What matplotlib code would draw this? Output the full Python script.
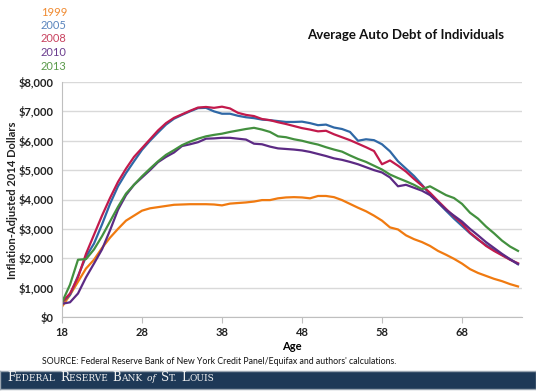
import matplotlib
matplotlib.use("Agg")
import matplotlib.pyplot as plt
import numpy as np

plt.rcParams['font.family'] = ['Lato', 'DejaVu Sans']

ages = list(range(18, 76))

debt_1999 = [0.35, 0.75, 1.2, 1.65, 1.95, 2.35, 2.7, 3.0, 3.28, 3.45, 3.62, 3.7, 3.74, 3.78,
             3.82, 3.83, 3.84, 3.84, 3.84, 3.83, 3.8, 3.86, 3.88, 3.9, 3.93, 3.98, 3.98, 4.04,
             4.07, 4.08, 4.07, 4.04, 4.12, 4.12, 4.08, 3.98, 3.85, 3.72, 3.6, 3.45, 3.28, 3.05,
             2.98, 2.78, 2.65, 2.55, 2.42, 2.25, 2.12, 1.98, 1.82, 1.63, 1.5, 1.4, 1.3, 1.22,
             1.12, 1.04]
debt_2005 = [0.5, 0.75, 1.4, 2.05, 2.5, 3.15, 3.85, 4.45, 4.9, 5.3, 5.69, 6.0, 6.28, 6.55,
             6.75, 6.88, 7.0, 7.11, 7.12, 7.0, 6.92, 6.92, 6.85, 6.8, 6.77, 6.72, 6.7, 6.67,
             6.64, 6.64, 6.65, 6.6, 6.53, 6.55, 6.45, 6.4, 6.3, 6.0, 6.05, 6.02, 5.88, 5.64,
             5.3, 5.05, 4.8, 4.5, 4.17, 3.9, 3.62, 3.35, 3.1, 2.85, 2.63, 2.45, 2.28, 2.12,
             1.96, 1.8]
debt_2008 = [0.5, 0.8, 1.35, 2.15, 2.8, 3.45, 4.05, 4.6, 5.05, 5.45, 5.75, 6.05, 6.35, 6.6,
             6.78, 6.9, 7.02, 7.13, 7.15, 7.12, 7.16, 7.1, 6.95, 6.88, 6.84, 6.74, 6.7, 6.63,
             6.57, 6.5, 6.43, 6.38, 6.32, 6.34, 6.22, 6.12, 6.02, 5.9, 5.78, 5.65, 5.2, 5.33,
             5.15, 4.95, 4.7, 4.47, 4.23, 3.95, 3.68, 3.42, 3.18, 2.87, 2.65, 2.42, 2.25, 2.1,
             1.95, 1.83]
debt_2010 = [0.45, 0.5, 0.8, 1.35, 1.82, 2.3, 2.95, 3.65, 4.15, 4.5, 4.75, 5.0, 5.27, 5.45,
             5.6, 5.82, 5.88, 5.95, 6.07, 6.08, 6.1, 6.1, 6.07, 6.04, 5.9, 5.88, 5.8, 5.74,
             5.72, 5.7, 5.67, 5.62, 5.55, 5.48, 5.4, 5.35, 5.28, 5.2, 5.1, 5.0, 4.92, 4.75,
             4.45, 4.5, 4.4, 4.3, 4.15, 3.9, 3.65, 3.45, 3.25, 3.0, 2.78, 2.55, 2.35, 2.15,
             1.97, 1.8]
debt_2013 = [0.5, 1.1, 1.95, 1.97, 2.3, 2.75, 3.25, 3.75, 4.2, 4.5, 4.79, 5.05, 5.3, 5.52,
             5.68, 5.85, 5.97, 6.07, 6.15, 6.2, 6.24, 6.3, 6.35, 6.4, 6.44, 6.38, 6.3, 6.15,
             6.12, 6.05, 6.0, 5.93, 5.87, 5.78, 5.7, 5.63, 5.5, 5.38, 5.28, 5.15, 5.02, 4.85,
             4.73, 4.62, 4.5, 4.35, 4.45, 4.3, 4.15, 4.05, 3.85, 3.55, 3.35, 3.08, 2.85, 2.6,
             2.4, 2.25]

years = ["1999", "2005", "2008", "2010", "2013"]
series = [debt_1999, debt_2005, debt_2008, debt_2010, debt_2013]
line_colors = ["#F07A10", "#2F68A6", "#C21A4C", "#5C2A84", "#43903F"]
label_colors = ["#F08A30", "#5A85BD", "#C8425F", "#6A3C8E", "#5A9A4A"]

fig = plt.figure(figsize=(5.36, 3.91), dpi=100)
ax = fig.add_axes([62 / 536, 1 - 317 / 391, 460 / 536, 235 / 391])

# draw oldest last-ish like the original (orange under)
for vals, c in zip(series, line_colors):
    ax.plot(ages, np.array(vals) * 1000, color=c, lw=1.6, solid_joinstyle='round')

ax.set_xlim(18, 75.5)
ax.set_ylim(0, 8000)
ax.set_xticks([18, 28, 38, 48, 58, 68])
ax.set_yticks(range(0, 8001, 1000))
ax.set_yticklabels(["${:,}".format(v) for v in range(0, 8001, 1000)])
ax.grid(axis='y', color='#D9D9D9', lw=1.0)
ax.set_axisbelow(True)
for s in ['top', 'right']:
    ax.spines[s].set_visible(False)
ax.spines['left'].set_color('#BFBFBF')
ax.spines['bottom'].set_color('#BFBFBF')
ax.tick_params(axis='both', labelsize=8, colors='#BFBFBF', labelcolor='#222222', length=4)
ax.tick_params(axis='y', length=0, pad=6)
ax.tick_params(axis='x', direction='out', length=4, pad=3)
for lbl in ax.get_xticklabels() + ax.get_yticklabels():
    lbl.set_fontweight('bold')

ax.set_xlabel("Age", fontsize=8, fontweight='bold', labelpad=2)
fig.text(13 / 536, 1 - 200 / 391, "Inflation-Adjusted 2014 Dollars", rotation=90,
         ha='center', va='center', fontsize=8, fontweight='bold', color='#222222')

fig.text(307 / 536, 1 - 35 / 391, "Average Auto Debt of Individuals", ha='left', va='center',
         fontsize=9.5, fontweight='bold', color='#111111')

for i, (y, c) in enumerate(zip(years, label_colors)):
    fig.text(41 / 536, 1 - (12 + 13.5 * i) / 391, y, ha='left', va='center',
             fontsize=8, color=c)

fig.text(42 / 536, 1 - 362 / 391,
         "SOURCE: Federal Reserve Bank of New York Credit Panel/Equifax and authors' calculations.",
         ha='left', va='center', fontsize=6.3, color='#111111')

# bottom banner
banner = fig.add_axes([0, 1 - 389 / 391, 1, 18 / 391])
banner.set_facecolor('#1E3957')
banner.set_xticks([])
banner.set_yticks([])
for s in banner.spines.values():
    s.set_color('#9AA5B1')
    s.set_linewidth(1)

# small caps by hand
runs = [("F", 8.5), ("EDERAL ", 6.5), ("R", 8.5), ("ESERVE ", 6.5), ("B", 8.5), ("ANK ", 6.5),
        ("of ", 6.5), ("S", 8.5), ("T. ", 6.5), ("L", 8.5), ("OUIS", 6.5)]
fig.canvas.draw()
renderer = fig.canvas.get_renderer()
x = 7
for txt, size in runs:
    style = 'italic' if txt.strip() == 'of' else 'normal'
    t = fig.text(x / 536, 1 - 381 / 391, txt, ha='left', va='baseline', fontsize=size,
                 color='#F2F2F2', family='DejaVu Serif', style=style)
    bb = t.get_window_extent(renderer=renderer)
    x += bb.width if not txt.endswith(' ') else bb.width + 2.0

fig.savefig("out.png", dpi=100)
